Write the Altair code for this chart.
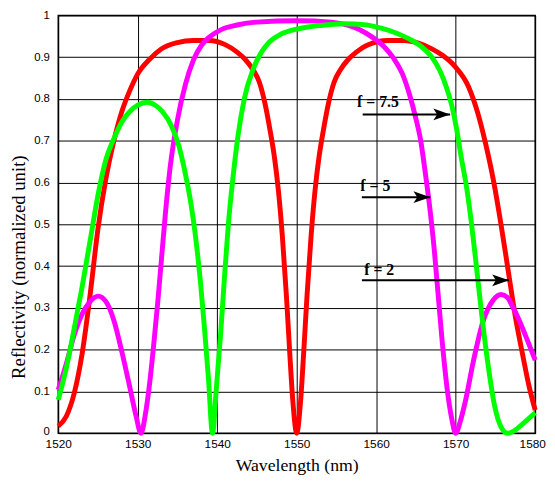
import altair as alt
import pandas as pd

# ---- data ----
# f = 2 (red)
red_wl = [1520, 1521, 1522, 1523, 1524, 1525, 1526, 1527, 1528, 1529,
          1530, 1531.5, 1533, 1535, 1537, 1539, 1541, 1542.5, 1543.5, 1544.5,
          1545.3, 1546.0, 1546.6, 1547.2, 1547.7, 1548.2, 1548.7, 1549.1, 1549.5, 1550.0,
          1550.5, 1550.9, 1551.3, 1551.8, 1552.3, 1552.8, 1553.4, 1554.0, 1554.7, 1555.5,
          1556.5, 1557.5, 1559.0, 1561.5, 1563.5, 1565.4, 1567.0, 1568.3, 1569.9, 1571.6,
          1572.8, 1573.8, 1574.8, 1575.7, 1576.6, 1577.5, 1578.4, 1579.2, 1580.0]
red_r = [0.017, 0.04, 0.095, 0.19, 0.33, 0.49, 0.61, 0.70, 0.77, 0.82,
         0.86, 0.895, 0.92, 0.935, 0.94, 0.94, 0.93, 0.912, 0.895, 0.87,
         0.84, 0.79, 0.73, 0.66, 0.58, 0.47, 0.33, 0.20, 0.08, 0.0,
         0.08, 0.20, 0.33, 0.47, 0.58, 0.66, 0.73, 0.79, 0.84, 0.87,
         0.895, 0.912, 0.93, 0.94, 0.94, 0.933, 0.92, 0.905, 0.878, 0.83,
         0.765, 0.69, 0.60, 0.50, 0.39, 0.28, 0.19, 0.115, 0.055]

# f = 5 (magenta)
mag_wl = [1520, 1521, 1522, 1523, 1524, 1525, 1526, 1527, 1528, 1529,
          1529.8, 1530.4, 1531.0, 1531.5, 1532.0, 1532.5, 1533.0, 1533.5, 1534.1, 1535.0,
          1536.0, 1537.0, 1538.0, 1539.0, 1540.5, 1542.5, 1545.0, 1550.0, 1554.4, 1556.5,
          1558.0, 1559.5, 1561.0, 1562.2, 1563.3, 1564.2, 1564.9, 1565.6, 1566.2, 1566.8,
          1567.3, 1567.8, 1568.3, 1568.9, 1569.5, 1570.0, 1570.6, 1571.2, 1572.2, 1573.4,
          1574.7, 1575.7, 1576.5, 1577.1, 1578.0, 1578.8, 1580.0]
mag_r = [0.104, 0.165, 0.235, 0.285, 0.315, 0.328, 0.315, 0.27, 0.195, 0.11,
         0.04, 0.0, 0.05, 0.12, 0.21, 0.31, 0.42, 0.53, 0.64, 0.75,
         0.835, 0.893, 0.928, 0.948, 0.966, 0.977, 0.984, 0.987, 0.984, 0.976,
         0.965, 0.948, 0.925, 0.897, 0.86, 0.81, 0.76, 0.70, 0.62, 0.53,
         0.44, 0.33, 0.22, 0.11, 0.035, 0.0, 0.03, 0.075, 0.17, 0.265,
         0.318, 0.332, 0.325, 0.305, 0.27, 0.233, 0.175]

# f = 7.5 (green)
grn_wl = [1520, 1521, 1522, 1523, 1524, 1525, 1526, 1527, 1528, 1529,
          1530, 1531.2, 1532.2, 1533.1, 1534.3, 1535.2, 1536.0, 1536.6, 1537.0, 1537.4,
          1537.9, 1538.4, 1538.9, 1539.4, 1539.9, 1540.4, 1540.9, 1541.4, 1542.0, 1542.6,
          1543.4, 1544.5, 1545.5, 1546.5, 1548.0, 1550.0, 1553.0, 1556.0, 1558.5, 1560.5,
          1562.5, 1564.0, 1565.5, 1567.0, 1568.0, 1568.8, 1569.5, 1570.1, 1570.7, 1571.4,
          1572.0, 1572.6, 1573.3, 1574.1, 1574.9, 1575.7, 1576.5, 1577.3, 1578.4, 1579.3,
          1580.0]
grn_r = [0.08, 0.155, 0.25, 0.35, 0.46, 0.57, 0.655, 0.705, 0.745, 0.77,
         0.785, 0.792, 0.785, 0.77, 0.733, 0.686, 0.62, 0.56, 0.51, 0.45,
         0.36, 0.25, 0.13, 0.0, 0.11, 0.23, 0.37, 0.50, 0.615, 0.71,
         0.80, 0.87, 0.91, 0.935, 0.955, 0.967, 0.976, 0.98, 0.978, 0.97,
         0.958, 0.945, 0.928, 0.90, 0.868, 0.83, 0.785, 0.73, 0.66, 0.585,
         0.50, 0.40, 0.28, 0.16, 0.065, 0.015, 0.0, 0.005, 0.022, 0.037,
         0.049]

# annotations
ann_text = ["f = 7.5", "f = 5", "f = 2"]
ann_text_x = [1557.6, 1558.0, 1558.5]
ann_text_y = [0.78, 0.58, 0.379]
arrow_x1 = [1558.3, 1558.2, 1558.2]
arrow_x2 = [1569.3, 1566.8, 1576.7]
arrow_y = [0.763, 0.565, 0.366]

x_ticks = [1520, 1530, 1540, 1550, 1560, 1570, 1580]
y_ticks = [0, 0.1, 0.2, 0.3, 0.4, 0.5, 0.6, 0.7, 0.8, 0.9, 1.0]

xscale = alt.Scale(domain=[1520, 1580], nice=False, zero=False)
yscale = alt.Scale(domain=[0, 1], nice=False)

xaxis = alt.Axis(values=x_ticks, format="d", grid=True, gridColor="#000", gridWidth=1,
                 domain=False, ticks=False, labelFlush=False,
                 labelFont="Liberation Sans", labelFontSize=12, labelColor="black",
                 labelPadding=6,
                 labelOffset={"condition": {"test": "datum.value == 1580", "value": -3}, "value": 0},
                 title="Wavelength (nm)", titleFont="Liberation Serif", titleFontSize=18,
                 titleFontWeight="normal", titleColor="black", titleY=38,
                 titleBaseline="alphabetic")
yaxis = alt.Axis(values=y_ticks, format=".1~f", grid=True, gridColor="#000", gridWidth=1,
                 domain=False, ticks=False, labelFlush=False,
                 labelFont="Liberation Sans", labelFontSize=11.5, labelColor="black",
                 labelPadding=9,
                 labelOffset={"condition": {"test": "datum.value == 0", "value": -2}, "value": 0},
                 title="Reflectivity (normalized unit)", titleFont="Liberation Serif",
                 titleFontSize=19, titleFontWeight="normal", titleColor="black",
                 titleAngle=270, titleX=-34, titleY=255, titleAlign="center",
                 titleBaseline="alphabetic")


def curve(wl, r, color):
    df = pd.DataFrame({"wl": wl, "r": r})
    return alt.Chart(df).mark_line(color=color, strokeWidth=5, interpolate="monotone").encode(
        x=alt.X("wl:Q", scale=xscale, axis=xaxis),
        y=alt.Y("r:Q", scale=yscale, axis=yaxis),
    )


red = curve(red_wl, red_r, "#ff0000")
mag = curve(mag_wl, mag_r, "#ff00ff")
grn = curve(grn_wl, grn_r, "#00ff00")

arr_df = pd.DataFrame({"x1": arrow_x1, "x2": arrow_x2, "y": arrow_y})
shafts = alt.Chart(arr_df).mark_rule(color="black", strokeWidth=2).encode(
    x=alt.X("x1:Q", scale=xscale), x2="x2:Q", y=alt.Y("y:Q", scale=yscale))
heads = alt.Chart(arr_df).mark_point(
    shape="M-1,-0.7L1,0L-1,0.7L-0.55,0Z", filled=True, size=289, color="black",
    opacity=1, xOffset=-8.5, strokeWidth=0).encode(
    x=alt.X("x2:Q", scale=xscale), y=alt.Y("y:Q", scale=yscale))

txt_df = pd.DataFrame({"t": ann_text, "x": ann_text_x, "y": ann_text_y})
labels = alt.Chart(txt_df).mark_text(align="left", baseline="alphabetic",
                                     font="Liberation Serif", fontWeight="bold",
                                     fontSize=16, color="black").encode(
    x=alt.X("x:Q", scale=xscale), y=alt.Y("y:Q", scale=yscale), text="t:N")

chart = alt.layer(red, mag, grn, shafts, heads, labels).properties(
    width=484, height=424,
    autosize=alt.AutoSizeParams(type="none"),
    padding={"left": 51, "top": 4, "right": 12, "bottom": 45},
    background="white",
).configure_view(stroke="black", strokeWidth=1.5)

chart.save("out.html", embed_options={"renderer": "svg", "actions": False})
